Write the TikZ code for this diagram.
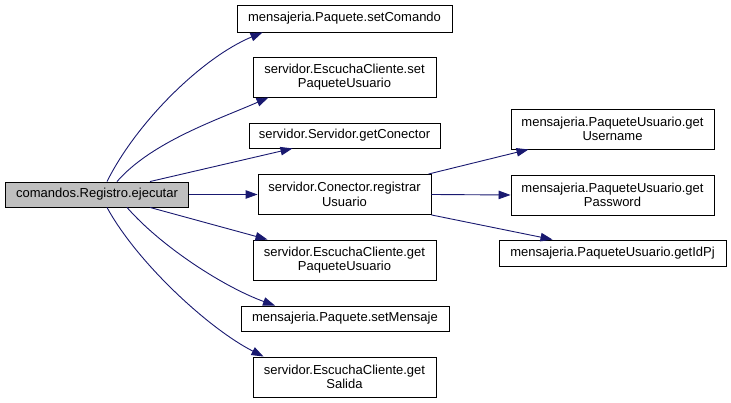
\documentclass[tikz,border=0pt]{standalone}
\usepackage{fontspec}
\setmainfont{Liberation Sans}
\usetikzlibrary{arrows.meta}
\definecolor{edgeblue}{HTML}{191970}
\definecolor{rootgray}{HTML}{BFBFBF}
\begin{document}
\begin{tikzpicture}[x=1pt, y=1pt,
  fbox/.style={draw=black, line width=0.9pt, align=center, inner sep=0pt,
    font=\fontsize{13}{14.5}\selectfont},
  call/.style={draw=edgeblue, line width=0.9pt, -{Triangle[length=12pt, width=8.5pt]}, edgeblue}]
\useasboundingbox (0,0) rectangle (731,403);
\node[fbox, fill=rootgray, minimum width=183pt, minimum height=25pt] (fn0) at (97,208.5){comandos.Registro.ejecutar};
\node[fbox, minimum width=215pt, minimum height=27pt] (fn1) at (344.5,384.5){mensajeria.Paquete.setComando};
\node[fbox, minimum width=183pt, minimum height=40pt] (fn2) at (344.5,326){servidor.EscuchaCliente.set\\PaqueteUsuario};
\node[fbox, minimum width=191pt, minimum height=25pt] (fn3) at (344.5,267.5){servidor.Servidor.getConector};
\node[fbox, minimum width=173pt, minimum height=40pt] (fn4) at (344.5,208.5){servidor.Conector.registrar\\Usuario};
\node[fbox, minimum width=183pt, minimum height=40pt] (fn5) at (344.5,143){servidor.EscuchaCliente.get\\PaqueteUsuario};
\node[fbox, minimum width=208pt, minimum height=25pt] (fn6) at (345,84.5){mensajeria.Paquete.setMensaje};
\node[fbox, minimum width=183pt, minimum height=40pt] (fn7) at (344.5,26){servidor.EscuchaCliente.get\\Salida};
\node[fbox, minimum width=203pt, minimum height=40pt] (fn8) at (612.5,274){mensajeria.PaqueteUsuario.get\\Username};
\node[fbox, minimum width=203pt, minimum height=40pt] (fn9) at (612.5,208){mensajeria.PaqueteUsuario.get\\Password};
\node[fbox, minimum width=227pt, minimum height=26pt] (fn10) at (612.5,150){mensajeria.PaqueteUsuario.getIdPj};
\draw[call] ([xshift=10pt]fn0.north) .. controls +(30,60) and +(-60,-25) .. ([xshift=-82pt]fn1.south);
\draw[call] ([xshift=20pt]fn0.north) .. controls +(35,40) and +(-50,-22) .. ([xshift=-76pt]fn2.south);
\draw[call] ([xshift=53pt]fn0.north) -- ([xshift=-52pt]fn3.south);
\draw[call] (fn0.east) -- (fn4.west);
\draw[call] ([xshift=53pt]fn0.south) -- ([xshift=-77pt]fn5.north);
\draw[call] ([xshift=30pt]fn0.south) .. controls +(35,-40) and +(-50,18) .. ([xshift=-70pt]fn6.north);
\draw[call] ([xshift=10pt]fn0.south) .. controls +(30,-55) and +(-55,28) .. ([xshift=-81pt]fn7.north);
\draw[call] ([xshift=-3pt]fn4.north east) -- ([xshift=-84pt]fn8.south);
\draw[call] (fn4.east) -- (fn9.west);
\draw[call] (fn4.south east) -- ([xshift=-60pt]fn10.north);
\end{tikzpicture}
\end{document}
